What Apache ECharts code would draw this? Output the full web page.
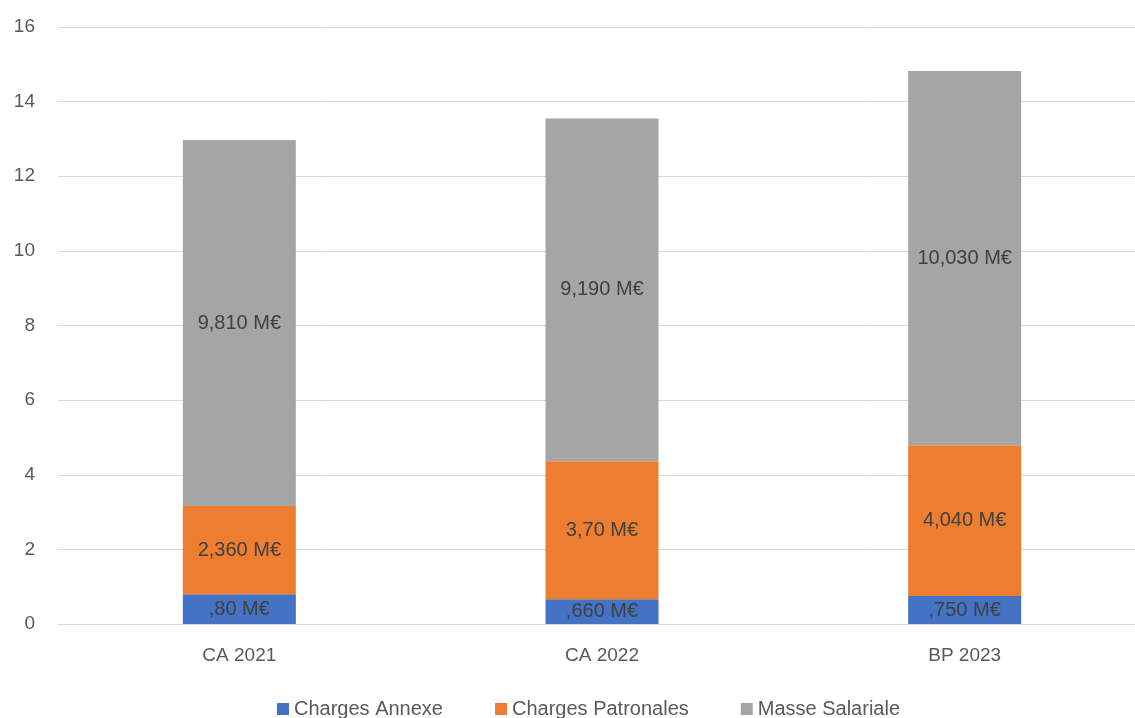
<!DOCTYPE html>
<html>
<head>
<meta charset="utf-8">
<script src="https://cdn.jsdelivr.net/npm/echarts@6/dist/echarts.min.js"></script>
<style>html,body{margin:0;padding:0;background:#fff;overflow:hidden;}#c{width:1135px;height:718px;}</style>
</head>
<body>
<div id="c"></div>
<script>
var categories = ['CA 2021', 'CA 2022', 'BP 2023'];
var seriesNames = ['Charges Annexe', 'Charges Patronales', 'Masse Salariale'];
var chargesAnnexe = [0.80, 0.66, 0.75];
var chargesPatronales = [2.36, 3.70, 4.04];
var masseSalariale = [9.81, 9.19, 10.03];
var labelsAnnexe = [',80 M€', ',660 M€', ',750 M€'];
var labelsPatronales = ['2,360 M€', '3,70 M€', '4,040 M€'];
var labelsMasse = ['9,810 M€', '9,190 M€', '10,030 M€'];
var colors = ['#4472C4', '#ED7D31', '#A5A5A5'];

var font = 'Liberation Sans';
function mk(name, data, labels, color) {
  return {
    name: name, type: 'bar', stack: 'total', data: data, barWidth: 113,
    itemStyle: { color: color },
    label: {
      show: true, position: 'inside', color: '#404040', fontSize: 20, fontFamily: font,
      formatter: function (p) { return labels[p.dataIndex]; }
    }
  };
}
var chart = echarts.init(document.getElementById('c'));
chart.setOption({
  animation: false,
  textStyle: { fontFamily: font },
  grid: { left: 58, width: 1088, top: 27, bottom: 94, outerBoundsMode: 'none', containLabel: false },
  legend: {
    bottom: -6, left: 272, itemWidth: 12, itemHeight: 12, itemGap: 52, itemTextGap: 9,
    icon: 'rect',
    textStyle: { color: '#595959', fontSize: 20, fontFamily: font },
    data: seriesNames
  },
  xAxis: {
    type: 'category', data: categories,
    axisLine: { lineStyle: { color: '#D9D9D9', width: 1 } },
    axisTick: { show: false },
    axisLabel: { color: '#595959', fontSize: 19, margin: 22, fontFamily: font }
  },
  yAxis: {
    type: 'value', min: 0, max: 16, interval: 2,
    axisLine: { show: false }, axisTick: { show: false },
    axisLabel: { color: '#595959', fontSize: 19, margin: 23, fontFamily: font },
    splitLine: { lineStyle: { color: '#D9D9D9', width: 1 } }
  },
  series: [
    mk(seriesNames[0], chargesAnnexe, labelsAnnexe, colors[0]),
    mk(seriesNames[1], chargesPatronales, labelsPatronales, colors[1]),
    mk(seriesNames[2], masseSalariale, labelsMasse, colors[2])
  ]
});
</script>
</body>
</html>
